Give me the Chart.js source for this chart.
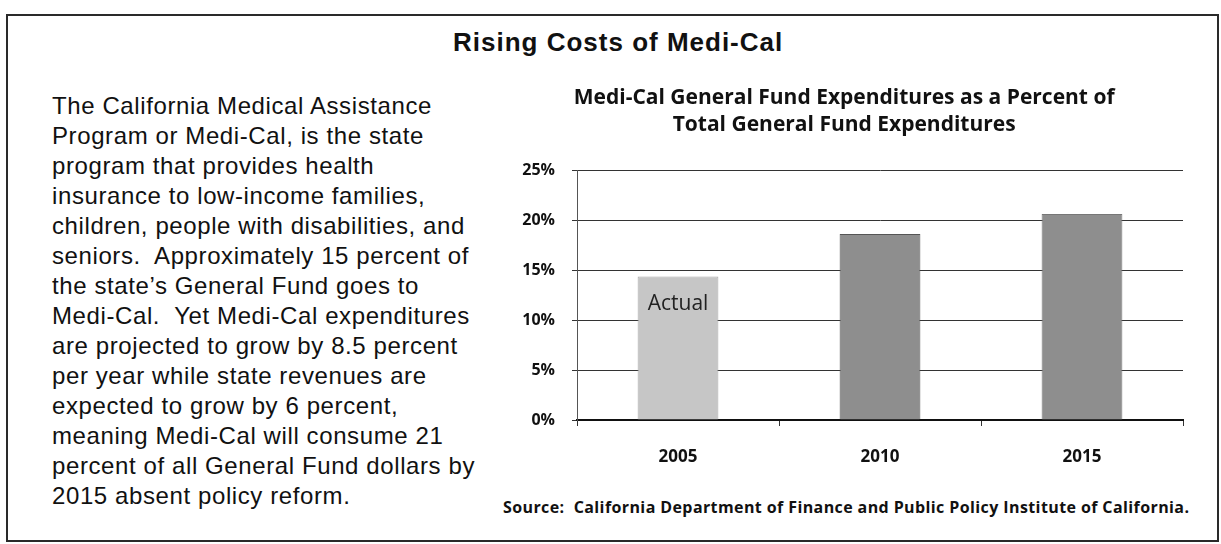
<!DOCTYPE html>
<html><head><meta charset="utf-8">
<script src="https://cdn.jsdelivr.net/npm/chart.js@4"></script>
<style>
html,body{margin:0;padding:0;background:#fff;width:1221px;height:544px;overflow:hidden;}
#box{position:absolute;left:6px;top:14px;width:1209px;height:524px;border:2px solid #2a2a2a;}
#main{position:absolute;left:453px;top:27px;white-space:nowrap;font:bold 26px "Liberation Sans",Arial,sans-serif;letter-spacing:1px;color:#111;}
#txt{position:absolute;left:52px;top:91px;width:460px;font:24px "Liberation Sans",Arial,sans-serif;letter-spacing:0.6px;line-height:30px;color:#111;white-space:nowrap;}
#src{position:absolute;left:503px;top:496px;font:bold 16px "Open Sans",sans-serif;letter-spacing:0.4px;color:#111;white-space:nowrap;}
#wrap{position:absolute;left:465px;top:84px;width:750px;height:404.4px;}
</style></head><body>
<div id="box"></div>
<div id="main">Rising Costs of Medi-Cal</div>
<div id="txt">The California Medical Assistance<br>Program or Medi-Cal, is the state<br>program that provides health<br>insurance to low-income families,<br>children, people with disabilities, and<br>seniors.&nbsp; Approximately 15 percent of<br>the state’s General Fund goes to<br>Medi-Cal.&nbsp; Yet Medi-Cal expenditures<br>are projected to grow by 8.5 percent<br>per year while state revenues are<br>expected to grow by 6 percent,<br>meaning Medi-Cal will consume 21<br>percent of all General Fund dollars by<br>2015 absent policy reform.</div>
<div id="src">Source:&nbsp; California Department of Finance and Public Policy Institute of California.</div>
<div id="wrap"><canvas id="c"></canvas></div>
<script>
const categories = ['2005','2010','2015'];
const shareValues = [14.35, 18.6, 20.6];
const yTicks = [0,5,10,15,20,25];
const barLabels = ['Actual','',''];
const chartTitle = ['Medi-Cal General Fund Expenditures as a Percent of','Total General Fund Expenditures'];

const labelPlugin = {
  id:'labelPlugin',
  afterDatasetsDraw(chart){
    const ctx = chart.ctx;
    const meta = chart.getDatasetMeta(0);
    const y = chart.scales.y.getPixelForValue(11.6);
    ctx.save();
    ctx.font = '21px "Open Sans", sans-serif';
    ctx.fillStyle = '#222';
    ctx.textAlign='center'; ctx.textBaseline='middle';
    meta.data.forEach((bar,i)=>{ if(barLabels[i]) ctx.fillText(barLabels[i], bar.x, y); });
    ctx.restore();
  }
};

new Chart(document.getElementById('c'),{
  type:'bar',
  data:{labels:categories,datasets:[{data:shareValues,
    backgroundColor:['#c6c6c6','#8e8e8e','#8e8e8e'],
    borderColor:['#a8a8a8','#555','#777'],borderWidth:1,
    barPercentage:0.4,categoryPercentage:1}]},
  options:{
    responsive:true,maintainAspectRatio:false,animation:false,
    layout:{padding:{left:40.3,right:32,top:0,bottom:0}},
    plugins:{legend:{display:false},tooltip:{enabled:false},
      title:{display:true,text:chartTitle,color:'#111',font:{family:'"Open Sans", sans-serif',size:21,weight:'bold',lineHeight:1.3},padding:{top:0,bottom:31.4}}},
    scales:{
      x:{grid:{display:true,drawOnChartArea:false,drawTicks:true,tickLength:6,color:'#333',offset:true},
         border:{color:'#111',width:2},
         ticks:{color:'#111',font:{family:'"Open Sans", sans-serif',size:17,weight:'bold'},padding:21}},
      y:{min:0,max:25,afterBuildTicks(s){s.ticks=yTicks.map(v=>({value:v}));},
         grid:{color:'#333',lineWidth:1,drawTicks:true,tickLength:5},
         border:{color:'#555',width:1},
         ticks:{color:'#111',font:{family:'"Open Sans", sans-serif',size:16,weight:'bold'},padding:17,callback:v=>v+'%'}}
    }
  },
  plugins:[labelPlugin]
});
</script>
</body></html>
